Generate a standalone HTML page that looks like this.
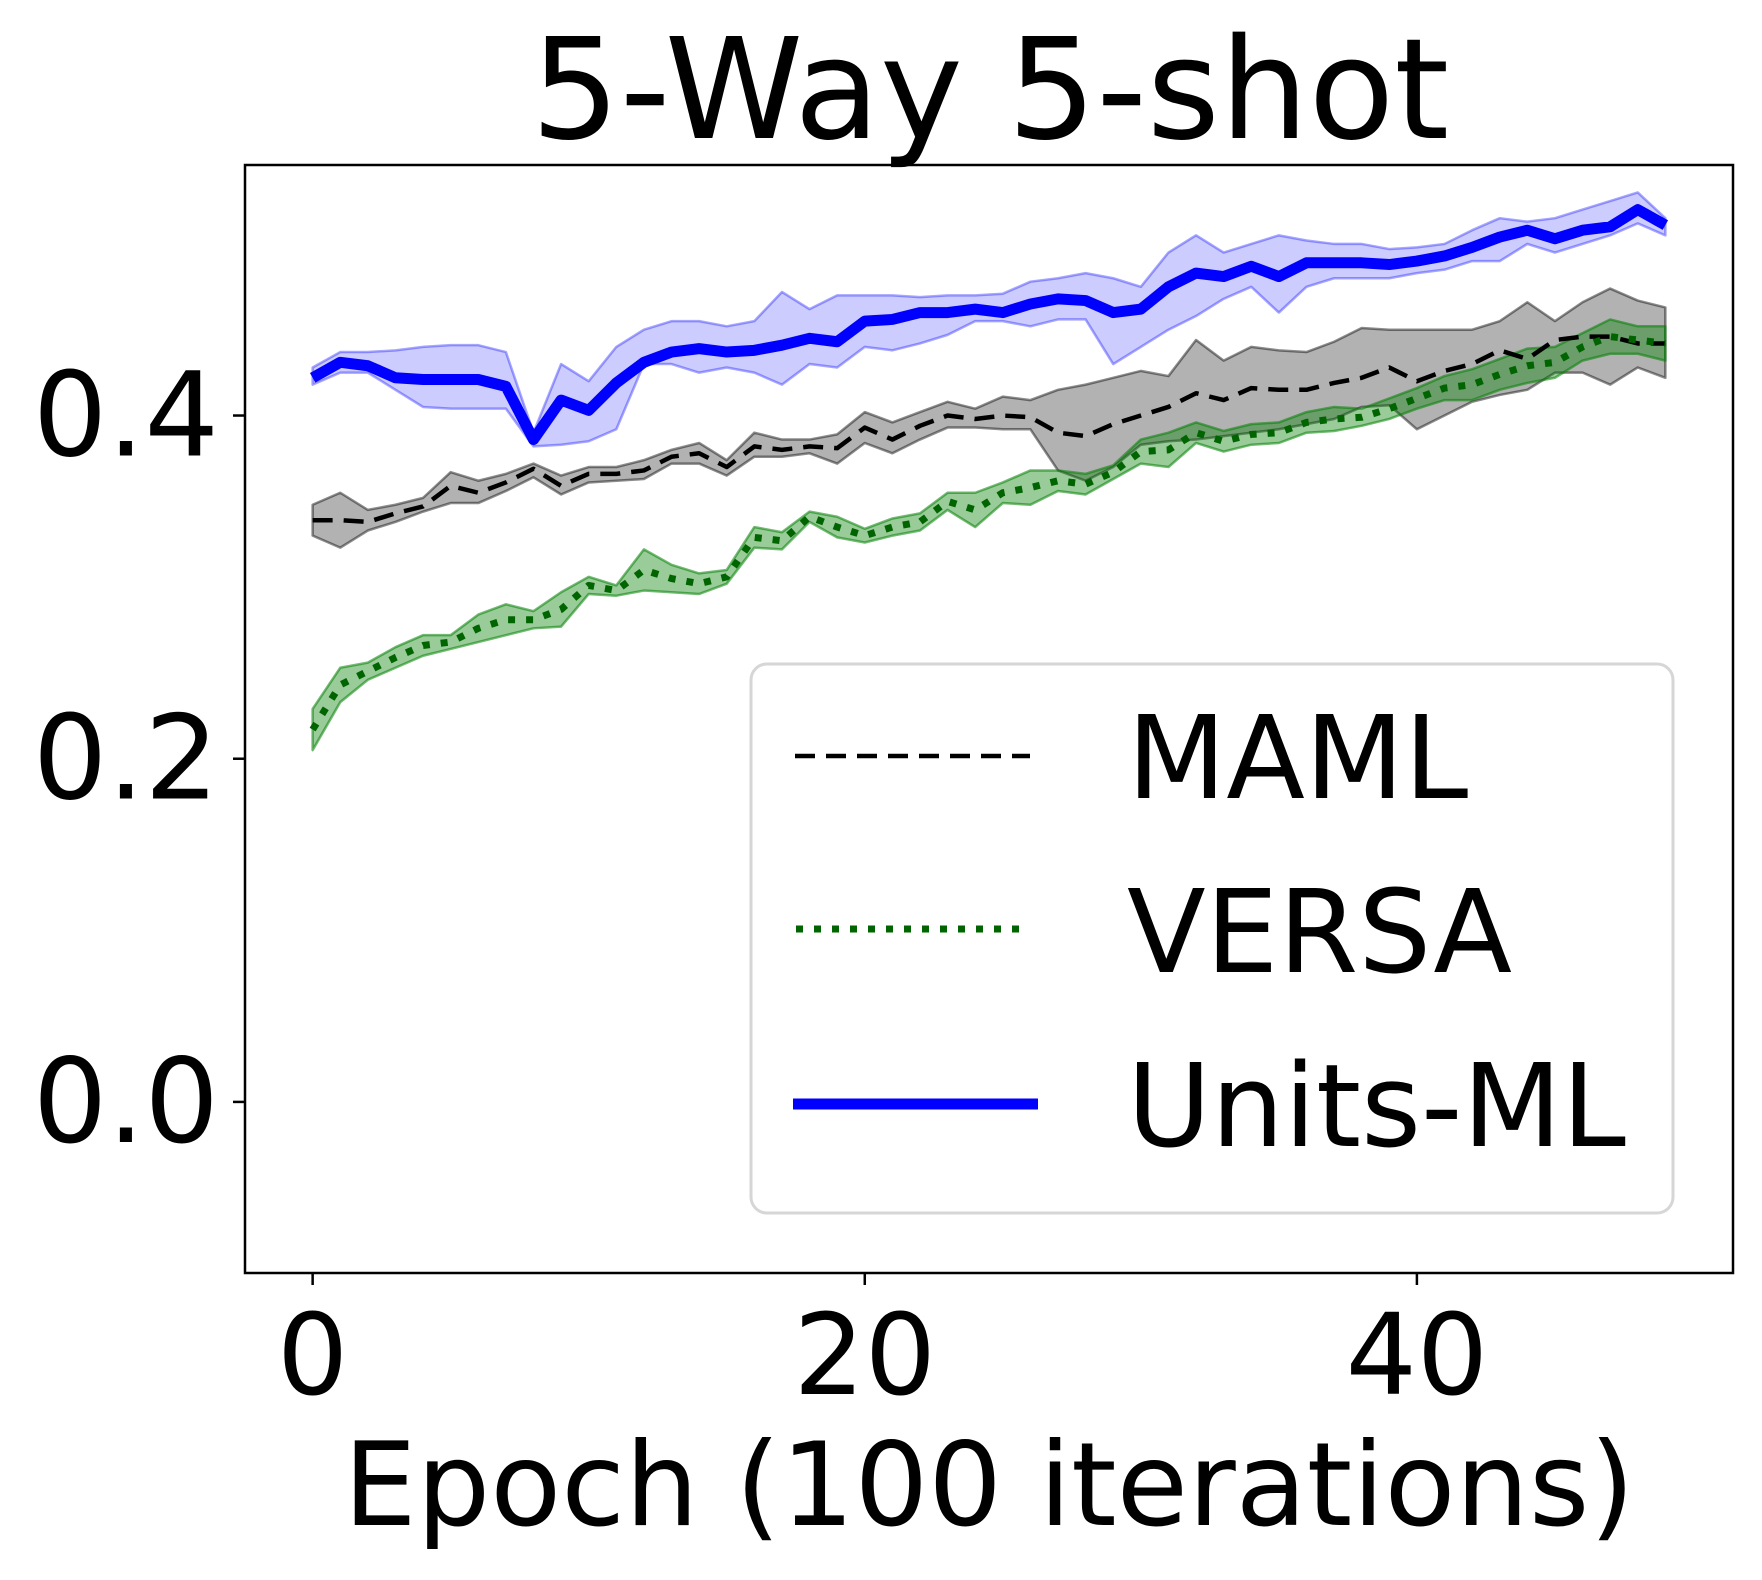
<!DOCTYPE html>
<html><head><meta charset="utf-8"><style>
html,body{margin:0;padding:0;background:#fff}
svg{display:block}
text{font-family:"DejaVu Sans","Liberation Sans",sans-serif;fill:#000}
</style></head><body>
<svg id="chart" width="1762" height="1580" viewBox="0 0 1762 1580" xmlns="http://www.w3.org/2000/svg">
<rect width="1762" height="1580" fill="#fff"/>
<text x="990" y="138" font-size="140" text-anchor="middle">5-Way 5-shot</text>
<g id="plot"></g>
<g id="axes"></g>
<text x="989" y="1525" font-size="116" text-anchor="middle">Epoch (100 iterations)</text>
<g id="legend">
<rect x="751" y="664" width="922" height="549" rx="16" fill="#fff" fill-opacity="0.8" stroke="#d6d6d6" stroke-width="3"/>
<g><line x1="795" y1="756" x2="1030" y2="756" stroke="#000" stroke-width="4.5" stroke-dasharray="20,11"/><text x="1127" y="798" font-size="115">MAML</text></g>
<g><line x1="796" y1="929" x2="1030" y2="929" stroke="#006400" stroke-width="7" stroke-dasharray="7,11"/><text x="1127" y="972" font-size="115">VERSA</text></g>
<g><line x1="793" y1="1104" x2="1038" y2="1104" stroke="#0000ff" stroke-width="11"/><text x="1127" y="1146" font-size="115">Units-ML</text></g>
</g>
</svg>
<script>
const epochs = Array.from({length:50},(_,i)=>i);
const unitsMean = [.422,.431,.429,.422,.421,.421,.421,.417,.386,.409,.403,.419,.431,.437,.439,.437,.438,.441,.445,.443,.455,.456,.460,.460,.462,.460,.465,.468,.467,.460,.462,.475,.483,.481,.487,.481,.489,.489,.489,.488,.490,.493,.498,.504,.508,.503,.508,.510,.520,.511];
const unitsUpper = [.428,.437,.437,.438,.440,.441,.441,.437,.390,.430,.420,.440,.450,.455,.455,.452,.455,.472,.462,.470,.470,.470,.469,.470,.470,.471,.478,.480,.483,.480,.475,.495,.505,.495,.500,.505,.502,.500,.500,.497,.498,.500,.508,.515,.513,.515,.520,.525,.530,.515];
const unitsLower = [.418,.425,.425,.415,.405,.404,.404,.404,.382,.383,.385,.392,.430,.430,.425,.428,.425,.418,.430,.428,.440,.438,.442,.447,.455,.455,.452,.456,.456,.430,.440,.450,.458,.468,.475,.460,.475,.480,.480,.480,.483,.485,.490,.490,.500,.495,.500,.505,.512,.505];
const mamlMean = [.339,.339,.338,.343,.347,.359,.355,.361,.369,.359,.366,.366,.368,.376,.378,.370,.382,.380,.382,.381,.393,.386,.394,.400,.398,.400,.399,.390,.388,.395,.400,.405,.413,.409,.416,.415,.415,.419,.422,.428,.420,.426,.430,.438,.433,.444,.446,.446,.442,.442];
const mamlUpper = [.348,.355,.345,.348,.352,.367,.362,.366,.372,.365,.370,.370,.374,.380,.384,.374,.390,.386,.386,.389,.402,.396,.402,.408,.404,.411,.409,.415,.418,.422,.426,.423,.444,.432,.440,.438,.437,.443,.451,.450,.450,.450,.450,.455,.466,.455,.466,.474,.467,.463];
const mamlLower = [.330,.323,.333,.338,.344,.349,.349,.356,.364,.354,.361,.362,.363,.372,.372,.365,.376,.376,.378,.372,.384,.378,.386,.393,.393,.392,.392,.368,.362,.370,.383,.385,.386,.388,.390,.392,.395,.398,.405,.406,.392,.400,.408,.412,.415,.425,.425,.418,.428,.422];
const versaMean = [.217,.243,.251,.259,.266,.268,.276,.281,.281,.287,.301,.298,.310,.305,.302,.306,.329,.327,.341,.335,.330,.335,.338,.350,.345,.355,.358,.362,.360,.367,.379,.380,.390,.385,.389,.390,.396,.398,.399,.404,.410,.416,.418,.424,.429,.431,.440,.446,.444,.442];
const versaErr = [.012,.010,.005,.006,.006,.004,.008,.009,.005,.010,.005,.003,.012,.008,.006,.004,.006,.005,.003,.006,.004,.005,.005,.005,.010,.006,.010,.006,.006,.004,.007,.010,.006,.006,.006,.006,.006,.007,.005,.006,.006,.007,.009,.009,.010,.009,.008,.010,.008,.010];
const yTicks = [0.0,0.2,0.4];
const yTickLabels = ["0.0","0.2","0.4"];
const xTicks = [0,20,40];
const xTickLabels = ["0","20","40"];

const L=245,R=1733,T=165,B=1273;
const xMin=-2.45,xMax=51.45,yMin=-0.0997,yMax=0.546;
const X=v=>L+(v-xMin)/(xMax-xMin)*(R-L);
const Y=v=>B-(v-yMin)/(yMax-yMin)*(B-T);
const NS="http://www.w3.org/2000/svg";
const plot=document.getElementById('plot'), axes=document.getElementById('axes');
function mk(tag,attrs,parent){const e=document.createElementNS(NS,tag);for(const k in attrs)e.setAttribute(k,attrs[k]);parent.appendChild(e);return e;}
function band(up,lo,fill,stroke,op,name){
  let d='M'+epochs.map((x,i)=>X(x)+','+Y(up[i])).join('L');
  d+='L'+epochs.slice().reverse().map(x=>X(x)+','+Y(lo[x])).join('L')+'Z';
  const p=mk('path',{d:d,fill:fill,'fill-opacity':op,stroke:stroke,'stroke-opacity':op+0.15,'stroke-width':2.5,'stroke-linejoin':'round'},plot);
  
  
}
function line(vals,attrs,name){
  const d='M'+epochs.map((x,i)=>X(x)+','+Y(vals[i])).join('L');
  const p=mk('path',Object.assign({d:d,fill:'none','stroke-linejoin':'round'},attrs),plot);
  
  
}
band(unitsUpper,unitsLower,'#0000ff','#0000ff',0.2,'units-ml-band');
band(mamlUpper,mamlLower,'#000000','#000000',0.3,'maml-band');
band(versaMean.map((m,i)=>m+versaErr[i]),versaMean.map((m,i)=>m-versaErr[i]),'#008000','#008000',0.4,'versa-band');
line(mamlMean,{stroke:'#000','stroke-width':4.5,'stroke-dasharray':'20,11'},'maml-line');
line(versaMean,{stroke:'#006400','stroke-width':7,'stroke-dasharray':'7,11'},'versa-line');
line(unitsMean,{stroke:'#0000ff','stroke-width':11},'units-ml-line');

const frame=mk('rect',{x:L,y:T,width:R-L,height:B-T,fill:'none',stroke:'#000','stroke-width':2.5},axes);


yTicks.forEach((v,i)=>{
  const t=mk('line',{x1:L-12,x2:L,y1:Y(v),y2:Y(v),stroke:'#000','stroke-width':2.5},axes);
  
  
  const tx=mk('text',{x:L-26,y:Y(v)+40,'font-size':117,'text-anchor':'end'},axes);
  tx.textContent=yTickLabels[i];
  
  
});
xTicks.forEach((v,i)=>{
  const t=mk('line',{x1:X(v),x2:X(v),y1:B,y2:B+12,stroke:'#000','stroke-width':2.5},axes);
  
  
  const tx=mk('text',{x:X(v),y:B+121,'font-size':112,'text-anchor':'middle'},axes);
  tx.textContent=xTickLabels[i];
  
  
});
</script>
</body></html>
